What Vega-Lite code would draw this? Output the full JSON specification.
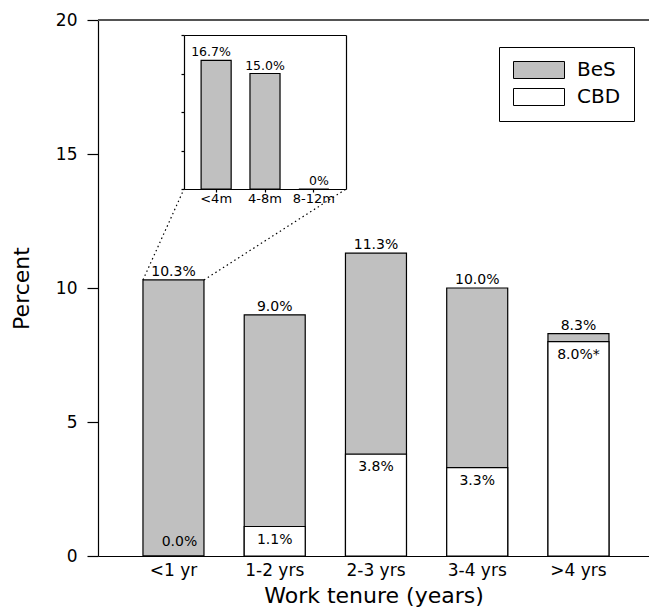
{
  "$schema": "https://vega.github.io/schema/vega-lite/v6.json",
  "width": 551,
  "height": 536,
  "autosize": {"type": "none"},
  "padding": {"left": 98, "top": 20, "right": 0, "bottom": 54},
  "background": "white",
  "config": {
    "view": {"stroke": null},
    "font": "DejaVu Sans",
    "axis": {"domainColor": "black", "tickColor": "black", "labelColor": "black", "titleColor": "black", "grid": false, "titleFontWeight": "normal", "labelFont": "DejaVu Sans", "titleFont": "DejaVu Sans", "domainWidth": 1.2, "tickWidth": 1.2},
    "text": {"font": "DejaVu Sans", "color": "black"}
  },
  "datasets": {
    "main": [
      {"tenure": "<1 yr", "group": "BeS", "value": 10.3, "label": "10.3%"},
      {"tenure": "1-2 yrs", "group": "BeS", "value": 9.0, "label": "9.0%"},
      {"tenure": "2-3 yrs", "group": "BeS", "value": 11.3, "label": "11.3%"},
      {"tenure": "3-4 yrs", "group": "BeS", "value": 10.0, "label": "10.0%"},
      {"tenure": ">4 yrs", "group": "BeS", "value": 8.3, "label": "8.3%"},
      {"tenure": "<1 yr", "group": "CBD", "value": 0.0, "label": "0.0%"},
      {"tenure": "1-2 yrs", "group": "CBD", "value": 1.1, "label": "1.1%"},
      {"tenure": "2-3 yrs", "group": "CBD", "value": 3.8, "label": "3.8%"},
      {"tenure": "3-4 yrs", "group": "CBD", "value": 3.3, "label": "3.3%"},
      {"tenure": ">4 yrs", "group": "CBD", "value": 8.0, "label": "8.0%*"}
    ],
    "inset": [
      {"months": "<4m", "value": 16.7, "label": "16.7%"},
      {"months": "4-8m", "value": 15.0, "label": "15.0%"},
      {"months": "8-12m", "value": 0, "label": "0%"}
    ]
  },
  "layer": [
    {
      "data": {"name": "main"},
      "encoding": {
        "x": {
          "field": "tenure", "type": "nominal",
          "sort": ["<1 yr", "1-2 yrs", "2-3 yrs", "3-4 yrs", ">4 yrs"],
          "scale": {"paddingInner": 0.3975, "paddingOuter": 0.4198, "align": 0.529},
          "title": "Work tenure (years)",
          "axis": {"orient": "bottom", "labelAngle": 0, "ticks": false, "labelPadding": 6, "labelFontSize": 17, "titleFontSize": 22, "titlePadding": 7}
        },
        "y": {
          "field": "value", "type": "quantitative", "stack": null,
          "scale": {"domain": [0, 20], "nice": false},
          "title": "Percent",
          "axis": {"orient": "left", "values": [0, 5, 10, 15, 20], "tickSize": 11, "labelPadding": 10, "labelFontSize": 17, "titleFontSize": 22, "titlePadding": 22}
        }
      },
      "layer": [
        {
          "mark": {"type": "rule", "color": "#555555", "strokeWidth": 1.5},
          "encoding": {"x": null, "y": {"datum": 20, "type": "quantitative"}}
        },
        {
          "mark": {"type": "bar", "stroke": "black", "strokeWidth": 1.2},
          "encoding": {
            "color": {
              "field": "group", "type": "nominal",
              "scale": {"domain": ["BeS", "CBD"], "range": ["#c0c0c0", "#ffffff"]},
              "legend": {"orient": "none", "legendX": 401, "legendY": 27, "title": null, "strokeColor": "black", "padding": 13, "symbolType": "M-1,-1H5V1H-1Z", "symbolSize": 289, "symbolStrokeColor": "black", "symbolStrokeWidth": 1, "labelFontSize": 20, "labelFont": "DejaVu Sans", "labelOffset": 45, "rowPadding": 5, "labelColor": "black", "symbolOpacity": 1}
            }
          }
        },
        {
          "transform": [{"filter": "datum.group === 'BeS'"}],
          "mark": {"type": "text", "baseline": "bottom", "dy": -1, "fontSize": 14},
          "encoding": {"text": {"field": "label"}}
        },
        {
          "transform": [{"filter": "datum.group === 'CBD' && datum.value > 0"}],
          "mark": {"type": "text", "baseline": "top", "dy": 6, "fontSize": 14},
          "encoding": {"text": {"field": "label"}}
        },
        {
          "transform": [{"filter": "datum.group === 'CBD' && datum.value === 0"}],
          "mark": {"type": "text", "baseline": "bottom", "dy": -7, "dx": 6, "fontSize": 14},
          "encoding": {"text": {"field": "label"}}
        },
        {
          "transform": [{"filter": "datum.group === 'BeS' && datum.tenure === '<1 yr'"}],
          "mark": {"type": "rule", "strokeDash": [1.5, 3], "strokeWidth": 1.2, "color": "black"},
          "encoding": {
            "x": {"field": "tenure", "type": "nominal", "bandPosition": 0},
            "x2": {"field": "tenure", "bandPosition": 0.672},
            "y2": {"datum": 13.69}
          }
        },
        {
          "transform": [{"filter": "datum.group === 'BeS' && datum.tenure === '<1 yr'"}],
          "mark": {"type": "rule", "strokeDash": [1.5, 3], "strokeWidth": 1.2, "color": "black"},
          "encoding": {
            "x": {"field": "tenure", "type": "nominal", "bandPosition": 1},
            "x2": {"field": "tenure", "bandPosition": 3.328},
            "y2": {"datum": 13.69}
          }
        }
      ]
    },
    {
      "data": {"name": "inset"},
      "mark": {"type": "bar", "color": "#c0c0c0", "stroke": "black", "strokeWidth": 1.2},
      "encoding": {
        "x": {
          "field": "months", "type": "nominal", "sort": ["<4m", "4-8m", "8-12m"],
          "scale": {"range": [86, 248], "paddingInner": 0.385, "paddingOuter": 0.35},
          "axis": {"orient": "bottom", "offset": -367, "title": null, "labelAngle": 0, "tickSize": 3, "labelPadding": 0, "labelFontSize": 13}
        },
        "y": {
          "field": "value", "type": "quantitative",
          "scale": {"domain": [0, 20], "range": [169, 15], "nice": false},
          "axis": {"orient": "left", "offset": -86, "title": null, "values": [0, 5, 10, 15, 20], "labels": false, "tickSize": 3}
        }
      }
    },
    {
      "data": {"name": "inset"},
      "mark": {"type": "text", "baseline": "bottom", "dy": -1, "fontSize": 12.5},
      "encoding": {
        "x": {
          "field": "months", "type": "nominal", "sort": ["<4m", "4-8m", "8-12m"],
          "scale": {"range": [86, 248], "paddingInner": 0.385, "paddingOuter": 0.35},
          "axis": {"orient": "top", "offset": -15, "title": null, "ticks": false, "labels": false}
        },
        "y": {
          "field": "value", "type": "quantitative",
          "scale": {"domain": [0, 20], "range": [169, 15], "nice": false},
          "axis": {"orient": "right", "offset": -303, "title": null, "ticks": false, "labels": false}
        },
        "text": {"field": "label"}
      }
    }
  ],
  "resolve": {"scale": {"x": "independent", "y": "independent"}, "axis": {"x": "independent", "y": "independent"}}
}
